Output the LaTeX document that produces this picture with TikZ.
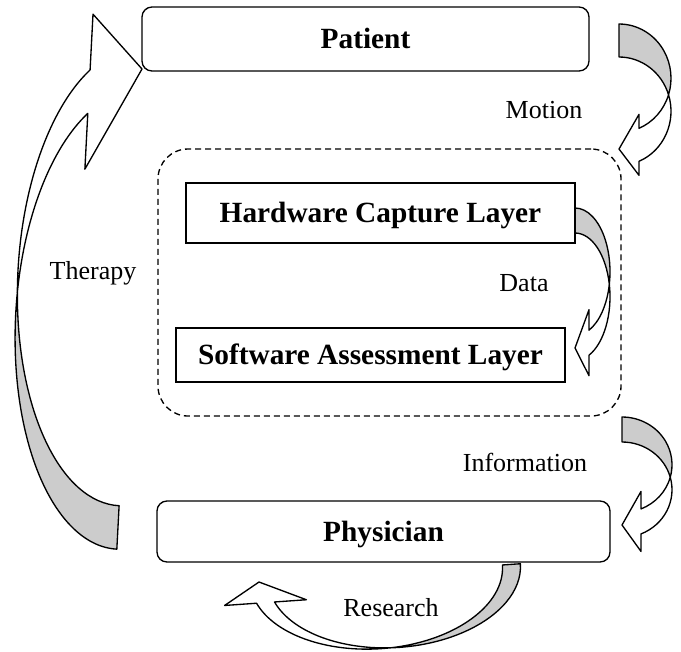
\documentclass[tikz,border=0pt]{standalone}
\usepackage{fontspec}
\setmainfont{Liberation Serif}
\newdimen\pxu \pxu=0.75pt
\tikzset{
  boxline/.style={line width=1pt},
  roundbox/.style={boxline, draw, fill=white, rounded corners=10\pxu, inner sep=0pt,
    text height=14.6pt, text depth=0pt, font=\fontsize{22}{24}\selectfont\bfseries},
  layerbox/.style={boxline, draw, fill=white, inner sep=0pt,
    text height=14.6pt, text depth=0pt, font=\fontsize{22}{24}\selectfont\bfseries},
  groupbox/.style={boxline, draw, dashed, dash pattern=on 4.5pt off 3pt, rounded corners=30\pxu, inner sep=0pt},
  lbl/.style={inner sep=0pt, anchor=base, font=\fontsize{19.5}{22}\selectfont},
  ribbonback/.style={boxline, draw, fill=gray!40, line join=round},
  ribbonfront/.style={boxline, draw, fill=white, line join=round},
}
% Curved block arrow: tail at the top left, body bulging to the right,
% head at the bottom left pointing left.
% #1 left, #2 top, #3 width, #4 height, #5 shaft, #6 head width, #7 head length
\newcommand\curvarrow[7]{%
  \pgfmathsetmacro\caL{#1}%
  \pgfmathsetmacro\caT{#2}%
  \pgfmathsetmacro\caW{#3}%
  \pgfmathsetmacro\caH{#4}%
  \pgfmathsetmacro\caTh{#5}%
  \pgfmathsetmacro\caAw{#6}%
  \pgfmathsetmacro\caAh{#7}%
  \pgfmathsetmacro\caR{\caH/2-(\caTh+\caAw)/4}%
  \pgfmathsetmacro\caCa{\caT+\caR}%
  \pgfmathsetmacro\caCb{\caCa+\caTh}%
  \pgfmathsetmacro\caX{asin(\caTh/(2*\caR))}%
  \pgfmathsetmacro\caE{acos(\caAh/\caW)}%
  \pgfmathsetmacro\caD{\caR*sin(\caE)}%
  \pgfmathsetmacro\caYa{\caCa+\caD}%
  \pgfmathsetmacro\caYb{\caCb+\caD}%
  \pgfmathsetmacro\caDh{(\caAw-\caTh)/2}%
  \pgfmathsetmacro\caTip{\caT+\caH-\caAw/2}%
  \pgfmathsetmacro\caXc{\caL+\caW*cos(\caX)}%
  \pgfmathsetmacro\caYc{\caCa+\caTh/2}%
  \pgfmathsetmacro\caHx{\caL+\caAh}%
  \draw[ribbonback] (\caL,\caT)
    arc[start angle=-90, end angle=\caX, x radius=\caW, y radius=\caR]
    arc[start angle=-\caX, end angle=-90, x radius=\caW, y radius=\caR] -- cycle;
  \draw[ribbonfront] (\caXc,\caYc)
    arc[start angle=-\caX, end angle=\caE, x radius=\caW, y radius=\caR]
    -- (\caHx,\caYb+\caDh) -- (\caL,\caTip) -- (\caHx,\caYa-\caDh) -- (\caHx,\caYa)
    arc[start angle=\caE, end angle=\caX, x radius=\caW, y radius=\caR] -- cycle;
}
\begin{document}
\begin{tikzpicture}[x=0.75pt, y=-0.75pt]
\useasboundingbox (0,0) rectangle (681,651);

% dashed group round the two layers
\node[groupbox, minimum width=463\pxu, minimum height=267\pxu] (group) at (389.5,282.5) {};

% block arrows
\curvarrow{619}{24}{52}{155.5}{33}{61}{20}
\curvarrow{575}{208}{35}{173}{25}{66}{14}
\curvarrow{622}{417}{50}{138}{25}{60}{19}
\begin{scope}[shift={(142,69)}, rotate=177]
  \curvarrow{0}{-480.8}{113.3}{558.4}{43.5}{155.2}{51.8}
\end{scope}
\begin{scope}[shift={(259,582)}, rotate=-86]
  \curvarrow{0}{-262}{75}{303}{18}{82}{21}
\end{scope}

% boxes
\node[roundbox, minimum width=447\pxu, minimum height=64\pxu] (patient) at (365.5,39) {Patient};
\node[layerbox, minimum width=389\pxu, minimum height=60\pxu] (hw) at (380.5,213) {Hardware Capture Layer};
\node[layerbox, minimum width=389\pxu, minimum height=54\pxu] (sw) at (370.5,355) {Software Assessment Layer};
\node[roundbox, minimum width=453\pxu, minimum height=61\pxu] (phys) at (383.5,531.5) {Physician};

% labels
\node[lbl] (motion) at (544,118.3) {Motion};
\node[lbl] (data) at (524,291.7) {Data};
\node[lbl] (therapy) at (93,279) {Therapy};
\node[lbl] (info) at (525,471) {Information};
\node[lbl] (research) at (391,616) {Research};
\end{tikzpicture}
\end{document}
